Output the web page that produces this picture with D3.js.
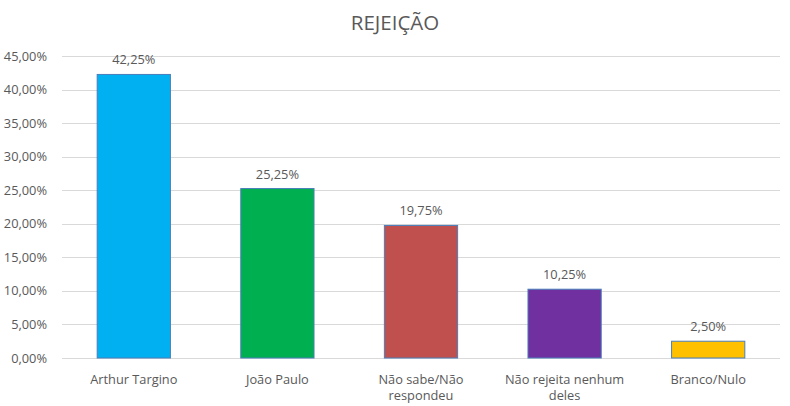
<!DOCTYPE html>
<html>
<head>
<meta charset="utf-8">
<script src="https://cdn.jsdelivr.net/npm/d3@7"></script>
<style>
  body { margin: 0; background: #fff; }
  svg text { font-family: "Open Sans", "Noto Sans", sans-serif; fill: #595959; }
</style>
</head>
<body>
<div id="chart"></div>
<script>
// chart data
const categories = [["Arthur Targino"], ["João Paulo"], ["Não sabe/Não", "respondeu"], ["Não rejeita nenhum", "deles"], ["Branco/Nulo"]]
const values = [42.25, 25.25, 19.75, 10.25, 2.50]
const colors = ["#00b0f0", "#00b050", "#c0504d", "#7030a0", "#ffc000"]
const yTicks = [0, 5, 10, 15, 20, 25, 30, 35, 40, 45]

const width = 790, height = 406
const margin = { top: 56, right: 10, bottom: 48, left: 62 }

const fmt = v => v.toFixed(2).replace('.', ',') + '%'

const svg = d3.select('#chart').append('svg')
    .attr('width', width)
    .attr('height', height)

const x = d3.scaleBand()
    .domain(d3.range(values.length))
    .range([margin.left, width - margin.right])
    .paddingInner(0.49)
    .paddingOuter(0.245)

const y = d3.scaleLinear()
    .domain([0, 45])
    .range([height - margin.bottom, margin.top])

//title
svg.append('text')
    .attr('x', 395)
    .attr('y', 30)
    .attr('text-anchor', 'middle')
    .style('font-size', '20.5px')
    .text('REJEIÇÃO')

//gridlines
svg.append('g')
    .selectAll('line')
    .data(yTicks)
    .join('line')
    .attr('x1', margin.left)
    .attr('x2', width - margin.right)
    .attr('y1', d => Math.round(y(d)) + 0.5)
    .attr('y2', d => Math.round(y(d)) + 0.5)
    .attr('stroke', '#d9d9d9')
    .attr('stroke-width', 1)

//y axis labels
const yAxis = svg.append('g')
    .attr('transform', `translate(${margin.left - 15},0)`)
    .call(d3.axisLeft(y).tickValues(yTicks).tickFormat(fmt).tickSize(0).tickPadding(0))
yAxis.select('.domain').remove()
yAxis.selectAll('text')
    .style('font-size', '12.8px')
    .attr('fill', '#595959')

//bars
svg.append('g')
    .selectAll('rect')
    .data(values)
    .join('rect')
    .attr('x', (d, i) => x(i))
    .attr('y', d => y(d))
    .attr('width', x.bandwidth())
    .attr('height', d => y(0) - y(d))
    .attr('fill', (d, i) => colors[i])
    .attr('stroke', '#4a7ebb')
    .attr('stroke-width', 1)

//value labels
svg.append('g')
    .selectAll('text')
    .data(values)
    .join('text')
    .attr('x', (d, i) => x(i) + x.bandwidth() / 2)
    .attr('y', d => y(d) - 10)
    .attr('text-anchor', 'middle')
    .style('font-size', '12.8px')
    .text(d => fmt(d))

//category labels
const cat = svg.append('g')
    .selectAll('text')
    .data(categories)
    .join('text')
    .attr('x', (d, i) => x(i) + x.bandwidth() / 2)
    .attr('y', height - margin.bottom + 26)
    .attr('text-anchor', 'middle')
    .style('font-size', '12.8px')

cat.selectAll('tspan')
    .data(d => d)
    .join('tspan')
    .attr('x', function () { return d3.select(this.parentNode).attr('x') })
    .attr('dy', (d, i) => i === 0 ? 0 : 16)
    .text(d => d)
</script>
</body>
</html>
